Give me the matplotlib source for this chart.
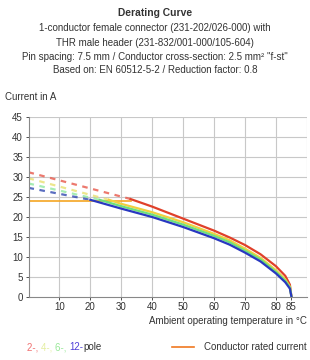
import matplotlib
matplotlib.use("Agg")
import matplotlib.pyplot as plt
from matplotlib.lines import Line2D

plt.rcParams['font.family'] = ['Liberation Sans', 'DejaVu Sans']

# data
title = "Derating Curve"
subtitle = ["1-conductor female connector (231-202/026-000) with",
            "THR male header (231-832/001-000/105-604)",
            "Pin spacing: 7.5 mm / Conductor cross-section: 2.5 mm² \"f-st\"",
            "Based on: EN 60512-5-2 / Reduction factor: 0.8"]

# 2-pole
t2_dash = [0, 33]
i2_dash = [31.1, 24.4]
t2 = [33, 40, 45, 50, 55, 60, 65, 70, 75, 80, 83, 84.5, 85]
i2 = [24.4, 22.5, 21.0, 19.5, 18.0, 16.5, 14.8, 12.9, 10.6, 7.6, 5.2, 3.0, 0]
# 4-pole
t4_dash = [0, 26]
i4_dash = [29.6, 24.2]
t4 = [26, 30, 40, 50, 60, 65, 70, 75, 80, 83, 84.5, 85]
i4 = [24.2, 23.2, 21.1, 18.6, 15.7, 14.1, 12.0, 9.7, 6.6, 4.3, 2.5, 0]
# 6-pole
t6_dash = [0, 23]
i6_dash = [28.3, 24.2]
t6 = [23, 30, 40, 50, 60, 65, 70, 75, 80, 83, 84.5, 85]
i6 = [24.2, 22.6, 20.5, 18.0, 15.2, 13.6, 11.5, 9.3, 6.2, 4.0, 2.3, 0]
# 12-pole
t12_dash = [0, 20]
i12_dash = [27.2, 24.2]
t12 = [20, 25, 30, 40, 50, 60, 65, 70, 75, 80, 83, 84.5, 85]
i12 = [24.2, 23.1, 22.0, 19.9, 17.4, 14.6, 13.0, 11.0, 8.8, 5.8, 3.6, 2.0, 0]
# conductor rated current
t_rated = [0, 33]
i_rated = [24, 24]

x_ticks = [10, 20, 30, 40, 50, 60, 70, 80, 85]
y_ticks = [0, 5, 10, 15, 20, 25, 30, 35, 40, 45]

fig = plt.figure(figsize=(3.1, 3.6), dpi=100)
ax = fig.add_axes([0.092, 0.176, 0.898, 0.5])

txt = "#333333"
fs = 7.0
fig.text(0.5, 0.963, title, ha='center', va='center', fontsize=7.4, fontweight='bold', color=txt)
sub_y = [0.921, 0.881, 0.843, 0.806]
for line, yy in zip(subtitle, sub_y):
    fig.text(0.5, yy, line, ha='center', va='center', fontsize=fs, color=txt)
fig.text(0.015, 0.731, "Current in A", ha='left', va='center', fontsize=fs, color=txt)

# grid
for gx in range(10, 91, 10):
    ax.axvline(gx, color='#c8c8c8', lw=0.8, zorder=0)
for gy in range(5, 46, 5):
    ax.axhline(gy, color='#c8c8c8', lw=0.8, zorder=0)

dash = (0, (2.5, 2.5))
ax.plot(t2_dash, i2_dash, color='#e8584a', lw=1.6, ls=dash, alpha=0.8)
ax.plot(t4_dash, i4_dash, color='#e8e070', lw=1.6, ls=dash, alpha=0.8)
ax.plot(t6_dash, i6_dash, color='#90e8a0', lw=1.6, ls=dash, alpha=0.8)
ax.plot(t12_dash, i12_dash, color='#3048b0', lw=1.6, ls=dash, alpha=0.8)
ax.plot(t_rated, i_rated, color='#f5a623', lw=1.2)

ax.plot(t2, i2, color='#e0402a', lw=1.6)
ax.plot(t4, i4, color='#f0d040', lw=1.6)
ax.plot(t6, i6, color='#6ee07a', lw=1.6)
ax.plot(t12, i12, color='#2838c0', lw=1.6)

ax.set_xlim(0, 90)
ax.set_ylim(0, 45)
ax.set_xticks(x_ticks)
ax.set_yticks(y_ticks)
ax.tick_params(labelsize=fs, colors=txt, length=2, width=0.6)
ax.tick_params(axis='x', pad=1.5)
ax.tick_params(axis='y', pad=2)
for s in ['top', 'right']:
    ax.spines[s].set_visible(False)
for s in ['left', 'bottom']:
    ax.spines[s].set_color('#888888')
    ax.spines[s].set_linewidth(0.8)

fig.text(0.99, 0.107, "Ambient operating temperature in °C", ha='right', va='center',
         fontsize=fs, color=txt)

# legend, built piece by piece
fig.canvas.draw()
renderer = fig.canvas.get_renderer()
pieces = [("2-, ", '#f07070'), ("4-, ", '#e4eea0'), ("6-, ", '#98e898'), ("12-", '#5040d8'), ("pole", txt)]
x = 0.088
for s, c in pieces:
    t = fig.text(x, 0.035, s, ha='left', va='center', fontsize=fs, color=c)
    bb = t.get_window_extent(renderer)
    x += bb.width / fig.bbox.width

fig.add_artist(Line2D([0.555, 0.625], [0.037, 0.037], color='#f07820', lw=1.2))
fig.text(0.99, 0.035, "Conductor rated current", ha='right', va='center', fontsize=fs, color=txt)

fig.savefig("out.png", dpi=100)
